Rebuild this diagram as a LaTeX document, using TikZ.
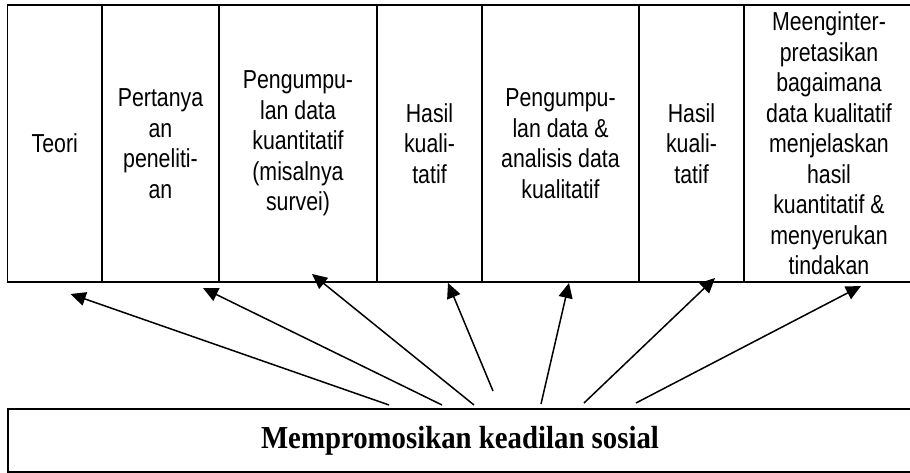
\documentclass[tikz,border=0pt]{standalone}
\usepackage{fontspec}
\setmainfont{Liberation Sans}
\newfontfamily\cellfont{Liberation Sans}[FakeStretch=0.82]
\newfontfamily\titlefont{Liberation Serif}[FakeStretch=0.9]
\usetikzlibrary{arrows.meta}
\begin{document}
\begin{tikzpicture}[x=1pt,y=1pt,
  cell/.style={draw, line width=1.8pt, minimum height=277pt, inner sep=0pt, align=center,
    font={\fontsize{26}{30.5}\selectfont\cellfont}},
  basebox/.style={draw, line width=2.4pt, minimum height=63pt, minimum width=904pt, inner sep=0pt,
    font={\fontsize{32}{36}\selectfont\titlefont\bfseries}},
  arr/.style={line width=1.5pt, -{Triangle[length=15pt,width=14pt]}}]
\clip (0,0) rectangle (910,473);
\fill[white] (0,0) rectangle (910,473);
% top row of cells
\node[cell, minimum width=94.5pt]  (c1) at (54.75,329.5) {Teori};
\node[cell, minimum width=117pt]   (c2) at (160.5,329.5) {Pertanya\\an\\peneliti-\\an};
\node[cell, minimum width=158pt]   (c3) at (298,329.5) {Pengumpu-\\lan data\\kuantitatif\\(misalnya\\survei)};
\node[cell, minimum width=105pt]   (c4) at (429.5,329.5) {Hasil\\kuali-\\tatif};
\node[cell, minimum width=157pt]   (c5) at (560.5,329.5) {Pengumpu-\\lan data \&\\analisis data\\kualitatif};
\node[cell, minimum width=105pt]   (c6) at (691.5,329.5) {Hasil\\kuali-\\tatif};
\node[cell, minimum width=170pt]   (c7) at (829,329.5) {Meenginter-\\pretasikan\\bagaimana\\data kualitatif\\menjelaskan\\hasil\\kuantitatif \&\\menyerukan\\tindakan};
% bottom box
\node[basebox] (base) at (460,32.5) {Mempromosikan keadilan sosial};
% arrow ends
\coordinate (t1) at (70.7,179);
\coordinate (t2) at (203,185);
\coordinate (t3) at (312,199);
\coordinate (t4) at (448,190);
\coordinate (t5) at (569,190);
\coordinate (t6) at (715,195);
\coordinate (t7) at (861,187);
\coordinate (s1) at (389,68);
\coordinate (s2) at (442,68);
\coordinate (s3) at (474,68);
\coordinate (s4) at (493,82);
\coordinate (s5) at (541,69);
\coordinate (s6) at (584,70);
\coordinate (s7) at (636,70);
\draw[arr] (s1) -- (t1);
\draw[arr] (s2) -- (t2);
\draw[arr] (s3) -- (t3);
\draw[arr] (s4) -- (t4);
\draw[arr] (s5) -- (t5);
\draw[arr] (s6) -- (t6);
\draw[arr] (s7) -- (t7);
\end{tikzpicture}
\end{document}
